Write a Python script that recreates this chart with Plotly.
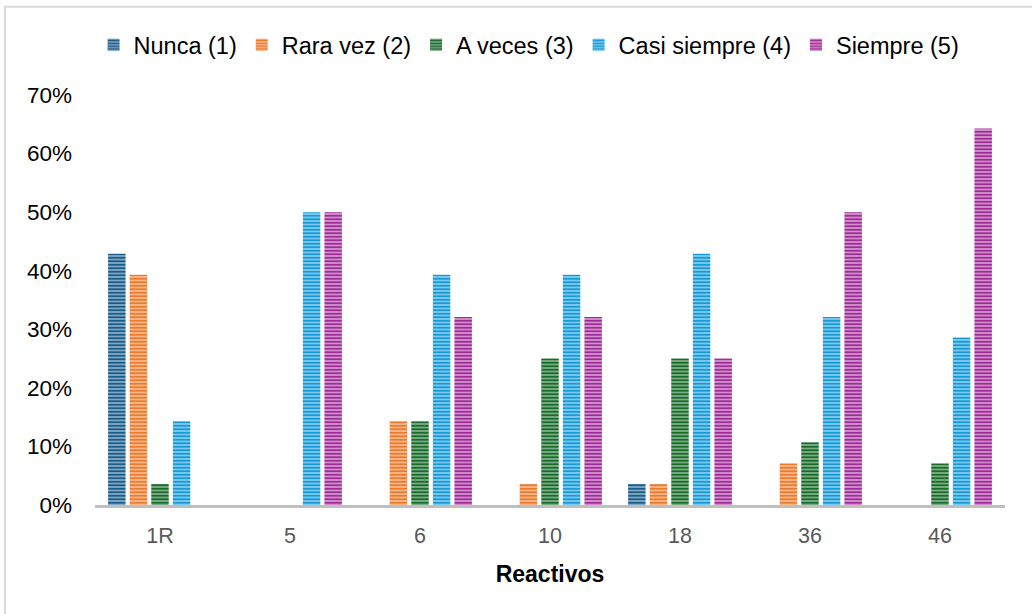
import plotly.graph_objects as go

categories = ["1R", "5", "6", "10", "18", "36", "46"]
nunca = [0.429, 0, 0, 0, 0.036, 0, 0]
rara_vez = [0.393, 0, 0.143, 0.036, 0.036, 0.071, 0]
a_veces = [0.036, 0, 0.143, 0.25, 0.25, 0.107, 0.071]
casi_siempre = [0.143, 0.5, 0.393, 0.393, 0.429, 0.321, 0.286]
siempre = [0, 0.5, 0.321, 0.321, 0.25, 0.5, 0.643]

series = [
    ("Nunca (1)", nunca, "#1B5A84", "#8AB0CB"),
    ("Rara vez (2)", rara_vez, "#EC7A2E", "#F8BE94"),
    ("A veces (3)", a_veces, "#1A6A2A", "#84B48F"),
    ("Casi siempre (4)", casi_siempre, "#1799D6", "#86CEEF"),
    ("Siempre (5)", siempre, "#9E2B97", "#D79AD2"),
]

fig = go.Figure()
for name, vals, dark, light in series:
    fig.add_trace(go.Bar(
        name=name, x=categories, y=vals,
        marker=dict(
            color=light,
            line=dict(width=0),
            pattern=dict(shape="-", fgcolor=dark, bgcolor=light,
                         size=3.5, solidity=0.55, fillmode="replace"),
        ),
    ))

fig.update_layout(
    width=1032, height=614,
    paper_bgcolor="white", plot_bgcolor="white",
    font=dict(family="Liberation Sans, Arial, sans-serif", color="#000000"),
    barmode="group", bargap=0.17, bargroupgap=0.19,
    margin=dict(l=95, r=27, t=95, b=109, autoexpand=False),
    showlegend=True,
    legend=dict(orientation="h", x=0.477, xanchor="center", y=1.122, yanchor="middle",
                font=dict(size=23.5, color="#000000"), itemwidth=30,
                tracegroupgap=0, bgcolor="rgba(0,0,0,0)"),
    xaxis=dict(
        type="category", showgrid=False, showline=True, linecolor="#BFBFBF",
        linewidth=3, ticks="", tickfont=dict(size=21.5, color="#595959"),
        ticklabelstandoff=9,
        title=dict(text="<b>Reactivos</b>", font=dict(size=23, color="#000000"),
                   standoff=20),
    ),
    yaxis=dict(
        range=[0, 0.7], dtick=0.1, tickformat=".0%", showgrid=False,
        zeroline=False, showline=False, ticks="", ticklen=0,
        tickfont=dict(size=22.5, color="#000000"), ticklabelstandoff=22,
    ),
    shapes=[dict(type="rect", xref="paper", yref="paper",
                 x0=-0.099, x1=1.1, y0=-0.3, y1=1.215,
                 line=dict(color="#D9D9D9", width=2), fillcolor="rgba(0,0,0,0)",
                 layer="below")],
)

fig.write_html("out.html")
